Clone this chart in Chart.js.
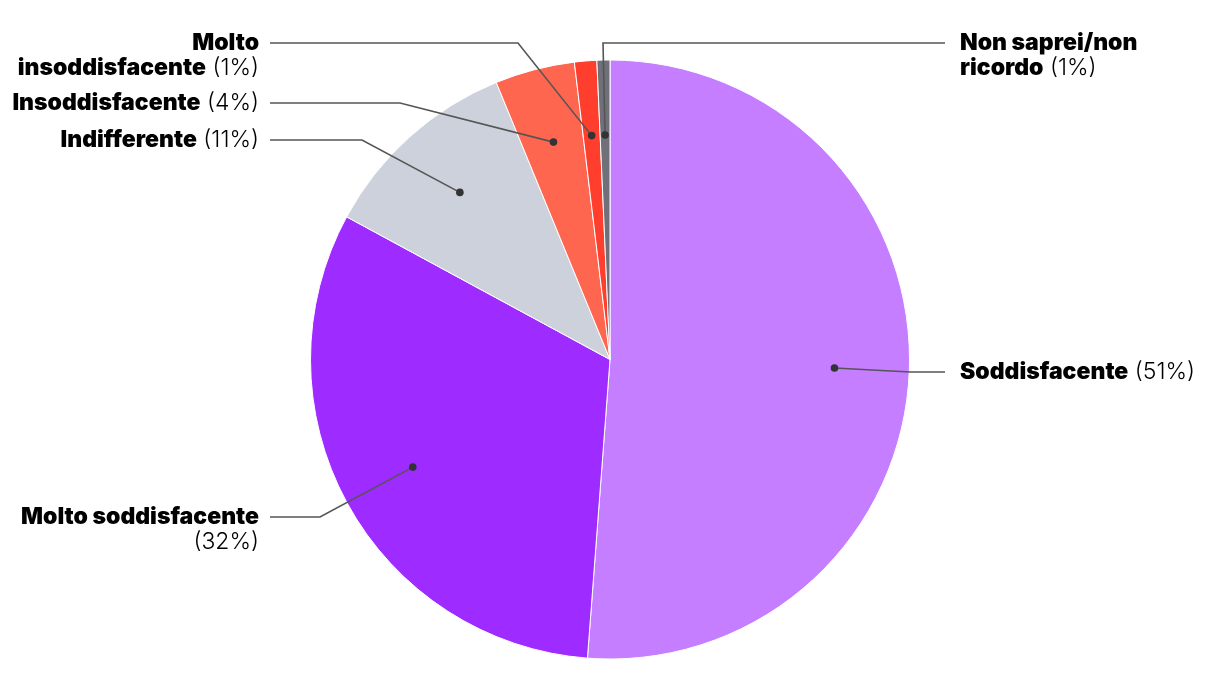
<!DOCTYPE html>
<html>
<head>
<meta charset="utf-8">
<script src="https://cdn.jsdelivr.net/npm/chart.js@4.4.1/dist/chart.umd.min.js"></script>
<style>
  html, body { margin: 0; padding: 0; background: #ffffff; }
  #wrap { width: 1220px; height: 700px; position: relative; }
</style>
</head>
<body>
<div id="wrap"><canvas id="c"></canvas></div>
<script>
// ---- Data ----
const categories = ['Soddisfacente', 'Molto soddisfacente', 'Indifferente', 'Insoddisfacente', 'Molto insoddisfacente', 'Non saprei/non ricordo'];
const values = [51.2, 31.7, 10.9, 4.3, 1.2, 0.7];
const percentLabels = ['(51%)', '(32%)', '(11%)', '(4%)', '(1%)', '(1%)'];
// label text broken into lines: [bold part, regular part]
const labelLines = [
  [['Soddisfacente', ' (51%)']],
  [['Molto soddisfacente', ''], ['', '(32%)']],
  [['Indifferente', ' (11%)']],
  [['Insoddisfacente', ' (4%)']],
  [['Molto', ''], ['insoddisfacente', ' (1%)']],
  [['Non saprei/non', ''], ['ricordo', ' (1%)']]
];

// ---- Styles / layout ----
const colors = ['#c57eff', '#9e2bff', '#cdd1dc', '#ff6650', '#ff3e2e', '#6f7079'];
const labelLayout = [
  { side: 'right', elbow: [910, 372], y: 372 },
  { side: 'left',  elbow: [320, 517], y: 517 },
  { side: 'left',  elbow: [362, 140], y: 140 },
  { side: 'left',  elbow: [400, 103], y: 103 },
  { side: 'left',  elbow: [518, 43],  y: 43 },
  { side: 'right', elbow: [603, 43],  y: 43 }
];
const FONT = 'Inter, "Liberation Sans", sans-serif';
const FS = 23;
const LH = 25.5;

const labelPlugin = {
  id: 'leaderLabels',
  afterDraw(chart) {
    const ctx = chart.ctx;
    const meta = chart.getDatasetMeta(0);
    meta.data.forEach((arc, i) => {
      const p = arc.getProps(['x', 'y', 'startAngle', 'endAngle', 'outerRadius'], true);
      const mid = (p.startAngle + p.endAngle) / 2;
      const r = p.outerRadius * 0.75;
      const dx = p.x + Math.cos(mid) * r;
      const dy = p.y + Math.sin(mid) * r;
      const L = labelLayout[i];
      const lineEndX = L.side === 'right' ? 945 : 270;
      const textX = L.side === 'right' ? 960 : 259;
      ctx.save();
      ctx.strokeStyle = '#555555';
      ctx.lineWidth = 1.6;
      ctx.beginPath();
      ctx.moveTo(dx, dy);
      ctx.lineTo(L.elbow[0], L.elbow[1]);
      ctx.lineTo(lineEndX, L.y);
      ctx.stroke();
      ctx.fillStyle = '#333333';
      ctx.beginPath();
      ctx.arc(dx, dy, 3.8, 0, Math.PI * 2);
      ctx.fill();
      // text
      ctx.textBaseline = 'middle';
      ctx.fillStyle = '#000000';
      labelLines[i].forEach((ln, k) => {
        const y = L.y + k * LH;
        ctx.font = `900 ${FS}px ${FONT}`;
        const wb = ctx.measureText(ln[0]).width;
        ctx.font = `300 ${FS}px ${FONT}`;
        const wr = ctx.measureText(ln[1]).width;
        let x = L.side === 'right' ? textX : textX - wb - wr;
        ctx.textAlign = 'left';
        ctx.font = `900 ${FS}px ${FONT}`;
        ctx.fillText(ln[0], x, y);
        ctx.font = `300 ${FS}px ${FONT}`;
        ctx.fillText(ln[1], x + wb, y);
      });
      ctx.restore();
    });
  }
};

new Chart(document.getElementById('c'), {
  type: 'pie',
  data: {
    labels: categories,
    datasets: [{
      data: values,
      backgroundColor: colors,
      borderColor: '#ffffff',
      borderWidth: 1
    }]
  },
  options: {
    responsive: true,
    maintainAspectRatio: false,
    animation: false,
    layout: { padding: { top: 59.5, bottom: 40.5, left: 0, right: 0 } },
    plugins: { legend: { display: false }, tooltip: { enabled: false } }
  },
  plugins: [labelPlugin]
});
</script>
</body>
</html>
